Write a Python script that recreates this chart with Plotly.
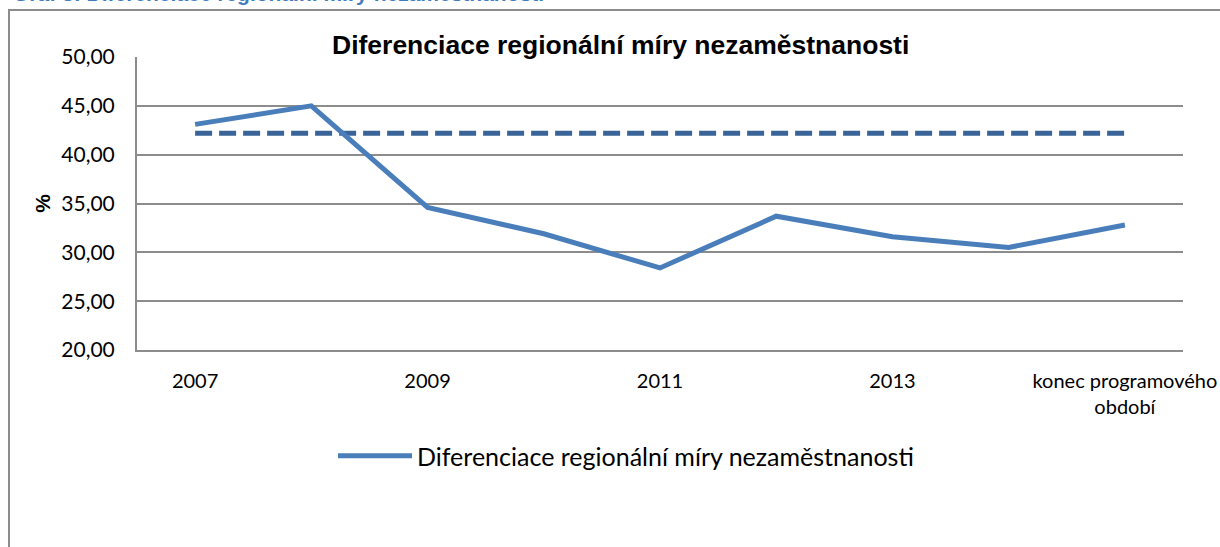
import plotly.graph_objects as go

categories = ["2007", "2008", "2009", "2010", "2011", "2012", "2013", "2014",
              "konec programového<br>období"]
values = [43.1, 45.0, 34.6, 31.9, 28.4, 33.7, 31.6, 30.5, 32.8]
target = [42.2] * 9
tick_labels = ["2007", "2009", "2011", "2013", "konec programového<br>období"]
series_name = "Diferenciace regionální míry nezaměstnanosti"
chart_title = "Diferenciace regionální míry nezaměstnanosti"
caption = "Graf 3: Diferenciace regionální míry nezaměstnanosti"
y_ticks = [20, 25, 30, 35, 40, 45, 50]

fig = go.Figure()
fig.add_trace(go.Scatter(
    x=categories, y=target, mode="lines", showlegend=False,
    line=dict(color="#3A6498", width=5, dash="17px,7px"),
))
fig.add_trace(go.Scatter(
    x=categories, y=values, mode="lines", name=series_name,
    line=dict(color="#4A7EBB", width=5),
))

L, R, T, B = 137, 1183, 57, 350
W, H = 1220, 547
pw, ph = R - L, B - T

def px_x(p):
    return (p - L) / pw

def px_y(p):
    return (B - p) / ph

fig.update_layout(
    width=W, height=H, autosize=False,
    margin=dict(l=L, r=W - R, t=T, b=H - B, autoexpand=False),
    plot_bgcolor="white", paper_bgcolor="white",
    font=dict(family="Lato, 'Open Sans', sans-serif", color="black"),
    xaxis=dict(
        type="category", range=[-0.5, 8.5], automargin=False,
        tickmode="array", tickvals=tick_labels, ticktext=tick_labels,
        showgrid=False, showline=True, linecolor="#8C8C8C", linewidth=2,
        ticks="", tickfont=dict(size=20), ticklabelstandoff=12,
    ),
    yaxis=dict(
        range=[20, 50], tickvals=y_ticks, automargin=False,
        ticktext=[f"{v:.2f}".replace(".", ",") for v in y_ticks],
        showgrid=True, gridcolor="#8C8C8C", gridwidth=2,
        showline=True, linecolor="#8C8C8C", linewidth=2,
        zeroline=False, ticks="", tickfont=dict(size=21), ticklabelstandoff=16,
        title=dict(text="<b>%</b>", font=dict(size=21, family="Liberation Sans, Arial"),
                   standoff=5),
    ),
    legend=dict(
        orientation="h", x=px_x(333), y=px_y(456), xanchor="left", yanchor="middle",
        font=dict(size=25), itemwidth=74, bgcolor="rgba(0,0,0,0)",
    ),
    showlegend=True,
    shapes=[dict(
        type="rect", xref="paper", yref="paper",
        x0=px_x(9), x1=px_x(1240), y0=px_y(560), y1=px_y(10),
        line=dict(color="#8C8C8C", width=2), fillcolor="rgba(0,0,0,0)", layer="below",
    )],
    annotations=[
        dict(text=f"<b>{chart_title}</b>", xref="paper", yref="paper",
             x=px_x(620), y=px_y(45), xanchor="center", yanchor="middle",
             showarrow=False,
             font=dict(size=26.5, family="Liberation Sans, Arial", color="black")),
        dict(text=f"<b>{caption}</b>", xref="paper", yref="paper",
             x=px_x(11), y=px_y(-7), xanchor="left", yanchor="middle",
             showarrow=False,
             font=dict(size=21, family="Liberation Sans, Arial", color="#3F7CC0")),
    ],
)

fig.write_html(
    "out.html",
    config={"displayModeBar": False, "responsive": False},
    post_script="document.body.style.margin='0px';document.body.style.overflow='hidden';",
)
